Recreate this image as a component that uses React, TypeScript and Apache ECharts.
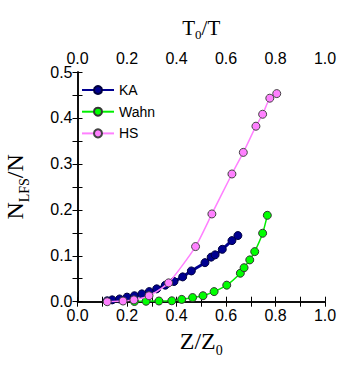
import React, { useEffect, useRef } from "react";
import * as echarts from "echarts";

const kaData: [number, number][] = [
  [0.12, 0.002], [0.14, 0.004], [0.17, 0.006], [0.2, 0.01], [0.23, 0.013],
  [0.26, 0.017], [0.29, 0.022], [0.32, 0.028], [0.355, 0.036], [0.39, 0.044],
  [0.425, 0.054], [0.46, 0.067], [0.515, 0.085], [0.54, 0.097], [0.556, 0.102],
  [0.585, 0.114], [0.624, 0.133], [0.648, 0.144],
];
const wahnData: [number, number][] = [
  [0.23, 0.0005], [0.277, 0.001], [0.329, 0.0015], [0.381, 0.002], [0.421, 0.005],
  [0.465, 0.009], [0.507, 0.013], [0.552, 0.022], [0.603, 0.036], [0.658, 0.062],
  [0.673, 0.074], [0.696, 0.091], [0.716, 0.109], [0.748, 0.149], [0.767, 0.188],
];
const hsData: [number, number][] = [
  [0.12, 0.0], [0.184, 0.0015], [0.228, 0.004], [0.289, 0.013], [0.368, 0.041],
  [0.477, 0.12], [0.543, 0.191], [0.624, 0.278], [0.67, 0.325], [0.721, 0.382],
  [0.748, 0.408], [0.777, 0.443], [0.805, 0.453],
];

const serif = "Liberation Serif";
const sans = "Liberation Sans";

export default function App() {
  const ref = useRef<HTMLDivElement>(null);
  useEffect(() => {
    const chart = echarts.init(ref.current!, null, { renderer: "svg" });
    const tickCommon = {
      axisLine: { show: true, lineStyle: { color: "#000", width: 1.5 } },
      axisTick: { show: true, inside: true, length: 5, lineStyle: { color: "#000", width: 1 } },
      minorTick: { show: true, splitNumber: 2, length: 5, lineStyle: { color: "#000", width: 1 } },
      splitLine: { show: false },
    };
    const labelStyle = {
      fontFamily: sans,
      fontSize: 16,
      color: "#000",
      formatter: (v: number) => v.toFixed(1),
    };
    const bigRich = {
      n: { fontFamily: serif, fontSize: 24, color: "#000", verticalAlign: "top", lineHeight: 30 },
      s: { fontFamily: serif, fontSize: 14, color: "#000", verticalAlign: "top", lineHeight: 30, padding: [15, 0, 0, 0] },
    };
    chart.setOption({
      animation: false,
      backgroundColor: "#fff",
      grid: { left: 77.5, right: 30, top: 72, bottom: 65.3, containLabel: false, outerBoundsMode: "none" },
      legend: {
        orient: "vertical",
        left: 81,
        top: 83,
        padding: 0,
        itemGap: 7.7,
        itemWidth: 32,
        itemHeight: 10,
        textStyle: { fontFamily: sans, fontSize: 14, color: "#000" },
        data: ["KA", "Wahn", "HS"],
      },
      xAxis: [
        {
          type: "value", min: 0, max: 1, interval: 0.2, position: "bottom",
          ...tickCommon,
          axisLabel: { ...labelStyle, margin: 6 },
          name: "{n|Z/Z}{s|0}",
          nameLocation: "middle",
          nameGap: 27,
          nameTextStyle: { rich: bigRich },
        },
        {
          type: "value", min: 0, max: 1, interval: 0.2, position: "top",
          ...tickCommon,
          axisLabel: { ...labelStyle, margin: 6 },
          name: "{n|T}{s|0}{n|/T}",
          nameLocation: "middle",
          nameGap: 29,
          nameTextStyle: {
            rich: {
              n: { fontFamily: serif, fontSize: 21, color: "#000", verticalAlign: "top", lineHeight: 26 },
              s: { fontFamily: serif, fontSize: 13, color: "#000", verticalAlign: "top", lineHeight: 26, padding: [11, 0, 0, 0] },
            },
          },
        },
      ],
      yAxis: [
        {
          type: "value", min: 0, max: 0.5, interval: 0.1, position: "left",
          ...tickCommon,
          axisLabel: { ...labelStyle, margin: 5 },
          name: "{n|N}{s|LFS}{n|/N}",
          nameLocation: "middle",
          nameGap: 45,
          nameTextStyle: { rich: bigRich },
        },
        {
          type: "value", min: 0, max: 0.5, interval: 0.1, position: "right",
          ...tickCommon,
          axisLabel: { show: false },
        },
      ],
      series: [
        {
          name: "KA", type: "line", data: kaData, smooth: 0.2,
          symbol: "circle", symbolSize: 8,
          lineStyle: { color: "#000090", width: 3 },
          itemStyle: { color: "#000090", borderColor: "#000040", borderWidth: 1 },
          z: 3,
        },
        {
          name: "Wahn", type: "line", data: wahnData, smooth: 0.2,
          symbol: "circle", symbolSize: 8,
          lineStyle: { color: "#00ee00", width: 1.5 },
          itemStyle: { color: "#00ff00", borderColor: "#333", borderWidth: 1 },
          z: 2,
        },
        {
          name: "HS", type: "line", data: hsData, smooth: 0.2,
          symbol: "circle", symbolSize: 8,
          lineStyle: { color: "#ff80ff", width: 1.5 },
          itemStyle: { color: "#ff80ff", borderColor: "#444", borderWidth: 1 },
          z: 4,
        },
      ],
    });
    return () => chart.dispose();
  }, []);
  return <div ref={ref} style={{ width: 355, height: 367, position: "absolute", left: 0, top: 0 }} />;
}
